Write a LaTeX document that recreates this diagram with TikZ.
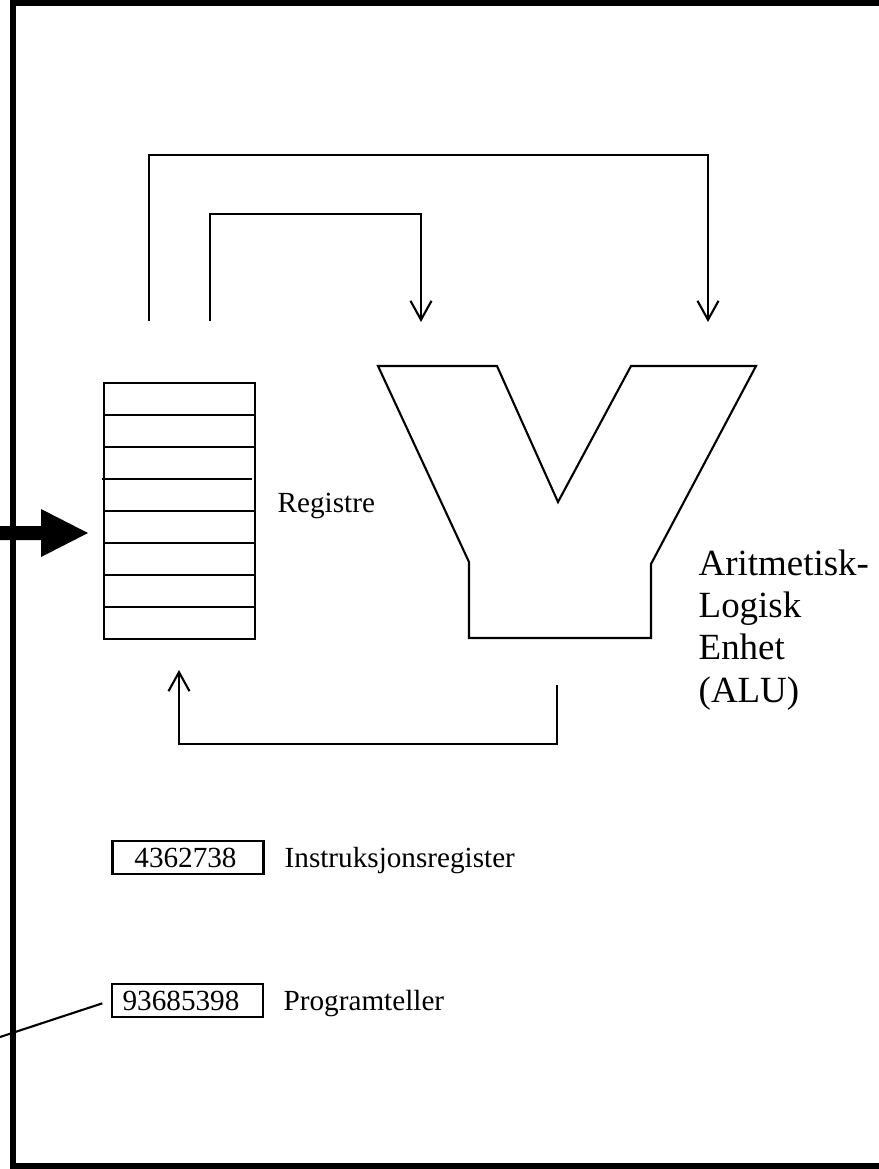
\documentclass[tikz,border=0pt]{standalone}
\usepackage{fontspec}
\setmainfont{Liberation Serif}
\usetikzlibrary{arrows.meta}

\begin{document}
\begin{tikzpicture}[x=0.01cm, y=-0.01cm,
  thin line/.style={line width=0.6pt},
  flow/.style={thin line, -{Straight Barb[length=0.19cm, width=0.21cm]}},
  small/.style={font=\fontsize{8.3pt}{10pt}\selectfont},
  big/.style={font=\fontsize{10.5pt}{11.95pt}\selectfont},
  valbox/.style={draw, thin line, minimum width=1.51cm, minimum height=0.33cm, inner sep=0pt},
  frameline/.style={line width=1.7pt, line join=miter}
]
\useasboundingbox (0,0) rectangle (879,1169);

% outer frame (open on the right)
\draw[frameline] (879,3) -- (13,3) -- (13,1166) -- (879,1166);

% heavy input arrow into the register file
\fill (0,526) -- (41,526) -- (41,509) -- (88,533) -- (41,557) -- (41,540) -- (0,540) -- cycle;

% register file: eight stacked registers
\node[draw, thin line, minimum width=1.51cm, minimum height=2.56cm, inner sep=0pt] (regs) at (179.5,511) {};
\foreach \y in {415,447,511,543,575,607}
  \draw[thin line] (104,\y) -- (255,\y);
\draw[thin line] (102,479) -- (252,479);
\node[small, anchor=base west, inner sep=0pt] (regtxt) at (277,512) {Registre};

% ALU outline
\draw[thin line, line join=miter] (378,366) -- (497,366) -- (558,502) -- (631,366) -- (756,366)
  -- (651,564) -- (651,638) -- (469,638) -- (469,562) -- cycle;
% the base anchor of a multi-line node sits on its last line
\node[big, anchor=base west, align=left, inner sep=0pt] (alutxt) at (698,702)
  {Aritmetisk-\\Logisk\\Enhet\\(ALU)};

% operand paths from the registers to the ALU inputs
\coordinate (o1) at (149,321);
\coordinate (o2) at (708,322);
\coordinate (i1) at (210,321);
\coordinate (i2) at (421,322);
\draw[flow] (o1) |- (708,155) -- (o2);
\draw[flow] (i1) |- (421,214) -- (i2);

% result path from the ALU back to the registers
\coordinate (r1) at (557,685);
\coordinate (r2) at (179,670);
\draw[flow] (r1) |- (179,744) -- (r2);

% instruction register
\node[valbox] (ir) at (188,857.5) {};
\node[small, anchor=base, inner sep=0pt] (irval) at (185.5,867) {4362738};
\node[small, anchor=base west, inner sep=0pt] (irtxt) at (284,867) {Instruksjonsregister};

% program counter
\node[valbox] (pc) at (187.5,1000.5) {};
\node[small, anchor=base, inner sep=0pt] (pcval) at (181,1010) {93685398};
\node[small, anchor=base west, inner sep=0pt] (pctxt) at (283,1010) {Programteller};
\coordinate (pcend) at (0,1037);
\draw[thin line, shorten <=0.09cm] (pc.west) -- (pcend);
\end{tikzpicture}
\end{document}
